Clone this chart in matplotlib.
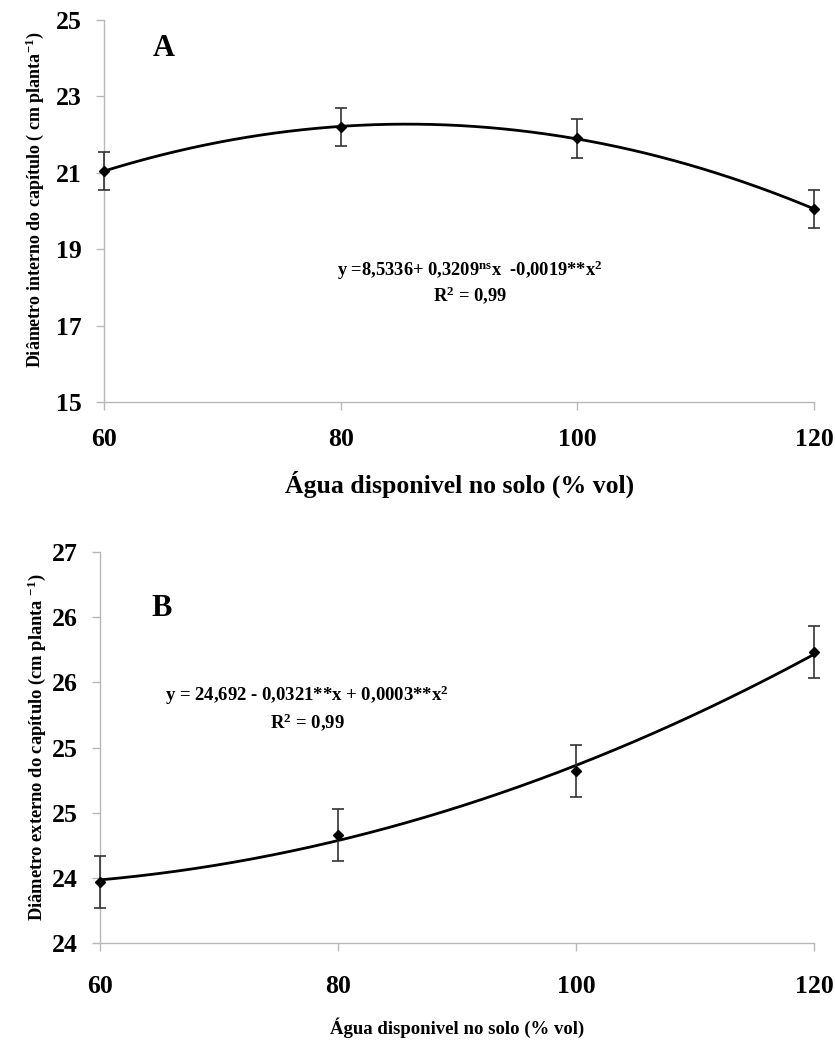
import numpy as np
import matplotlib
matplotlib.use("Agg")
import matplotlib.pyplot as plt

plt.rcParams['font.family'] = ['Liberation Serif', 'DejaVu Serif']
plt.rcParams['font.weight'] = 'bold'
plt.rcParams['mathtext.fontset'] = 'custom'
plt.rcParams['mathtext.rm'] = 'Liberation Serif:bold'
plt.rcParams['mathtext.it'] = 'Liberation Serif:bold'
plt.rcParams['mathtext.bf'] = 'Liberation Serif:bold'

# ---- data ----
water = [60, 80, 100, 120]

inner_diam = [21.05, 22.2, 21.9, 20.05]
inner_err = [0.5, 0.5, 0.5, 0.5]
inner_yticks = [15, 17, 19, 21, 23, 25]

outer_diam = [23.97, 24.33, 24.82, 25.73]
outer_err = [0.2, 0.2, 0.2, 0.2]
outer_yticks = [23.5, 24.0, 24.5, 25.0, 25.5, 26.0, 26.5]
outer_yticklabels = ["24", "24", "25", "25", "26", "26", "27"]

xlabel_text = "Água disponivel no solo (% vol)"
ylabel_a = "Diâmetro interno do capítulo ( cm planta$^{-1}$)"
ylabel_b = "Diâmetro externo do capítulo (cm planta $^{-1}$)"
eq_a = "y =8,5336+ 0,3209$^{\\mathrm{ns}}$x  -0,0019**x$^{2}$"
eq_b = "y = 24,692 - 0,0321**x + 0,0003**x$^{2}$"
r2_text = "R$^{2}$ = 0,99"

fig = plt.figure(figsize=(8.35, 10.41), dpi=100)

spine_col = '#b8b8b8'


def style(ax):
    for s in ['top', 'right']:
        ax.spines[s].set_visible(False)
    for s in ['left', 'bottom']:
        ax.spines[s].set_color(spine_col)
        ax.spines[s].set_linewidth(1.0)
    ax.tick_params(axis='both', colors=spine_col, length=6, width=1.0,
                   labelcolor='black', labelsize=18.5)
    ax.tick_params(axis='y', pad=10)
    ax.set_xticks(water)
    ax.set_xlim(60, 120)
    for lab in ax.get_xticklabels() + ax.get_yticklabels():
        lab.set_fontweight('bold')


def draw(ax, y, err):
    coef = np.polyfit(water, y, 2)
    xs = np.linspace(60, 120, 300)
    ax.plot(xs, np.polyval(coef, xs), color='black', lw=2.0, zorder=3)
    ax.errorbar(water, y, yerr=err, fmt='D', color='black', ms=5,
                ecolor='#333333', elinewidth=1.2, capsize=4, capthick=1.2,
                zorder=4, clip_on=False)


# ---- Panel A ----
axA = fig.add_axes([0.1246, 0.6138, 0.8504, 0.367])
draw(axA, inner_diam, inner_err)
axA.set_ylim(15, 25)
axA.set_yticks(inner_yticks)
style(axA)
axA.tick_params(axis='x', pad=13)
axA.set_xlabel(xlabel_text, fontsize=18.5, fontweight='bold', labelpad=14)
axA.set_ylabel(ylabel_a, fontsize=13, fontweight='bold', labelpad=2)
axA.yaxis.set_label_coords(-0.082, 0.53)
axA.text(0.069, 0.925, "A", transform=axA.transAxes, fontsize=22,
         fontweight='bold', ha='left', va='center')
axA.text(0.515, 0.345, eq_a, transform=axA.transAxes, fontsize=13.3,
         ha='center', va='center')
axA.text(0.515, 0.28, r2_text, transform=axA.transAxes, fontsize=13.3,
         ha='center', va='center')

# ---- Panel B ----
axB = fig.add_axes([0.1198, 0.0941, 0.8552, 0.3756])
draw(axB, outer_diam, outer_err)
axB.set_ylim(23.5, 26.5)
axB.set_yticks(outer_yticks)
axB.set_yticklabels(outer_yticklabels)
style(axB)
axB.tick_params(axis='x', pad=17)
axB.set_xlabel(xlabel_text, fontsize=13.5, fontweight='bold', labelpad=14)
axB.set_ylabel(ylabel_b, fontsize=13.3, fontweight='bold', labelpad=3)
axB.text(0.072, 0.855, "B", transform=axB.transAxes, fontsize=22,
         fontweight='bold', ha='left', va='center')
axB.text(0.29, 0.633, eq_b, transform=axB.transAxes, fontsize=13.5,
         ha='center', va='center')
axB.text(0.29, 0.565, r2_text, transform=axB.transAxes, fontsize=13.5,
         ha='center', va='center')

fig.savefig("out.png", dpi=100)
